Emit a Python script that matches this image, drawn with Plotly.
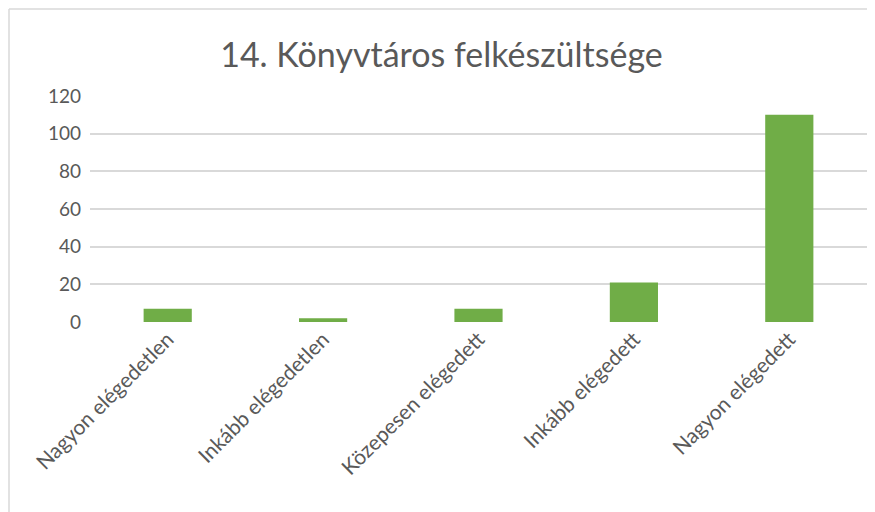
import plotly.graph_objects as go

categories = ["Nagyon elégedetlen", "Inkább elégedetlen", "Közepesen elégedett",
              "Inkább elégedett", "Nagyon elégedett"]
values = [7, 2, 7, 21, 110]
y_ticks = [0, 20, 40, 60, 80, 100, 120]

TEXT = "#595959"
GRID = "#D9D9D9"
GREEN = "#70AD47"
FONT = "Lato, 'Open Sans', sans-serif"

# page body has an 8px margin, so the figure is sized to fit the 875x512 window
W, H = 867, 504
L, R, T, B = 82, 8, 88, 190

fig = go.Figure(go.Bar(x=categories, y=values, marker_color=GREEN, marker_line_width=0))

fig.update_layout(
    width=W, height=H,
    margin=dict(l=L, r=R, t=T, b=B),
    paper_bgcolor="white", plot_bgcolor="white",
    bargap=0.69,
    showlegend=False,
    font=dict(family=FONT, color=TEXT, size=19),
    title=dict(text="14. Könyvtáros felkészültsége", x=0.5, xanchor="center",
               y=1 - 47 / H, yanchor="middle",
               font=dict(size=34, color=TEXT, family=FONT)),
)
fig.update_xaxes(tickangle=-45, showgrid=False, showline=False, ticks="",
                 tickfont=dict(size=21, color=TEXT))
fig.update_yaxes(range=[0, 120], tickvals=y_ticks, showgrid=True, gridcolor=GRID,
                 gridwidth=1.5, zeroline=False, showline=False, ticks="",
                 ticklabelstandoff=8, tickfont=dict(size=19, color=TEXT))

# chart outline (Excel-style frame): only the left and top edges are in view
pw, ph = W - L - R, H - T - B
left, top = (1 - L) / pw, (ph + T - 1) / ph
fig.add_shape(type="line", xref="paper", yref="paper",
              x0=left, x1=left, y0=top, y1=-(B + 10) / ph,
              line=dict(color=GRID, width=1.5), layer="below")
fig.add_shape(type="line", xref="paper", yref="paper",
              x0=left, x1=(W + 10 - L) / pw, y0=top, y1=top,
              line=dict(color=GRID, width=1.5), layer="below")

fig.write_html("out.html")
